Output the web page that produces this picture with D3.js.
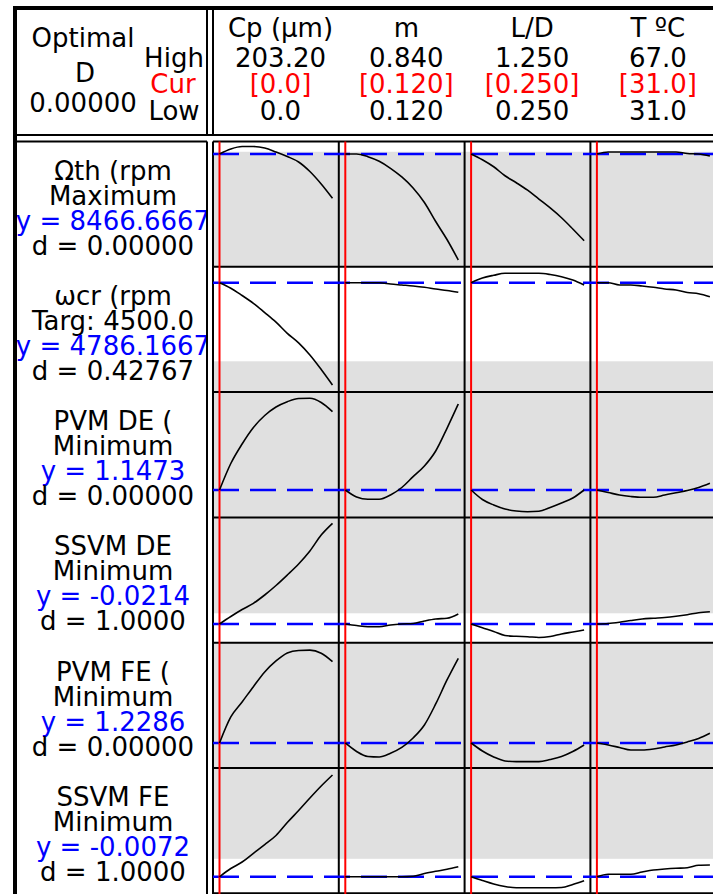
<!DOCTYPE html>
<html>
<head>
<meta charset="utf-8">
<script src="https://cdnjs.cloudflare.com/ajax/libs/d3/7.8.5/d3.min.js"></script>
<style>
  body { margin: 0; background: #fff; }
  svg text { font-family: "DejaVu Sans", Verdana, sans-serif; font-size: 26px; }
</style>
</head>
<body>
<div id="chart"></div>
<script>
// factors (columns)
var factorNames = ["Cp (µm)", "m", "L/D", "T ºC"];
var highLabels = ["203.20", "0.840", "1.250", "67.0"];
var curLabels = ["[0.0]", "[0.120]", "[0.250]", "[31.0]"];
var lowLabels = ["0.0", "0.120", "0.250", "31.0"];
var factorLow = [0, 0.12, 0.25, 31];
var factorHigh = [203.2, 0.84, 1.25, 67];
var factorCur = [0, 0.12, 0.25, 31];

// settings where each response was evaluated
var cpLevels = [0, 20.32, 40.64, 60.96, 81.28, 101.6, 121.92, 142.24, 162.56, 182.88, 203.2];
var mLevels = [0.12, 0.192, 0.264, 0.336, 0.408, 0.48, 0.552, 0.624, 0.696, 0.768, 0.84];
var ldLevels = [0.25, 0.35, 0.45, 0.55, 0.65, 0.75, 0.85, 0.95, 1.05, 1.15, 1.25];
var tLevels = [31, 34.6, 38.2, 41.8, 45.4, 49, 52.6, 56.2, 59.8, 63.4, 67];

// responses (rows)
var responseNames = ["Ωth (rpm", "ωcr (rpm", "PVM DE (", "SSVM DE", "PVM FE (", "SSVM FE"];
var goalLabels = ["Maximum", "Targ: 4500.0", "Minimum", "Minimum", "Minimum", "Minimum"];
var predicted = [8466.6667, 4786.1667, 1.1473, -0.0214, 1.2286, -0.0072];
var predictedLabels = ["y = 8466.6667", "y = 4786.1667", "y = 1.1473", "y = -0.0214", "y = 1.2286", "y = -0.0072"];
var desirLabels = ["d = 0.00000", "d = 0.42767", "d = 0.00000", "d = 1.0000", "d = 0.00000", "d = 1.0000"];
var yRanges = [[6775, 8654], [3692, 4945], [0.873, 2.126], [-0.0588, 0.1918], [0.9786, 2.2316], [-0.0138, 0.0363]];
var lowerBounds = [8500, 4000, null, null, null, null];
var upperBounds = [null, 5000, 0.8, 0, 0.9, 0];

// response traces, one array per factor column
var omegaTh = [
    [8467, 8542, 8579, 8579, 8557, 8497, 8429, 8347, 8204, 8017, 7802],
    [8467, 8467, 8426, 8357, 8252, 8122, 7957, 7739, 7454, 7184, 6877],
    [8467, 8380, 8275, 8140, 8036, 7924, 7790, 7657, 7510, 7342, 7166],
    [8467, 8497, 8497, 8497, 8497, 8497, 8497, 8497, 8474, 8467, 8437]
];
var omegaCr = [
    [4786, 4731, 4658, 4580, 4487, 4391, 4280, 4184, 4063, 3918, 3763],
    [4786, 4786, 4786, 4786, 4773, 4763, 4753, 4740, 4723, 4708, 4690],
    [4786, 4833, 4860, 4880, 4880, 4880, 4880, 4868, 4846, 4813, 4763],
    [4786, 4786, 4763, 4763, 4753, 4740, 4723, 4713, 4688, 4676, 4646]
];
var pvmDE = [
    [1.147, 1.412, 1.607, 1.772, 1.892, 1.977, 2.030, 2.062, 2.064, 2.022, 1.930],
    [1.147, 1.077, 1.054, 1.054, 1.097, 1.172, 1.280, 1.387, 1.537, 1.764, 2.007],
    [1.147, 1.052, 0.997, 0.957, 0.937, 0.930, 0.934, 0.972, 1.017, 1.067, 1.147],
    [1.147, 1.122, 1.097, 1.082, 1.074, 1.074, 1.097, 1.120, 1.142, 1.172, 1.214]
];
var ssvmDE = [
    [-0.0214, -0.0064, 0.0076, 0.0200, 0.0366, 0.0556, 0.0766, 0.0986, 0.1246, 0.1566, 0.1800],
    [-0.0214, -0.0244, -0.0268, -0.0268, -0.0234, -0.0214, -0.0204, -0.0154, -0.0114, -0.0100, -0.0014],
    [-0.0214, -0.0290, -0.0364, -0.0444, -0.0460, -0.0468, -0.0484, -0.0464, -0.0414, -0.0374, -0.0334],
    [-0.0214, -0.0204, -0.0178, -0.0144, -0.0114, -0.0098, -0.0084, -0.0060, -0.0028, 0.0012, 0.0032]
];
var pvmFE = [
    [1.229, 1.489, 1.639, 1.792, 1.939, 2.049, 2.129, 2.154, 2.157, 2.126, 2.042],
    [1.229, 1.144, 1.094, 1.089, 1.126, 1.184, 1.279, 1.409, 1.619, 1.859, 2.076],
    [1.229, 1.149, 1.089, 1.049, 1.042, 1.042, 1.042, 1.064, 1.094, 1.144, 1.209],
    [1.229, 1.209, 1.184, 1.159, 1.159, 1.169, 1.189, 1.209, 1.239, 1.274, 1.326]
];
var ssvmFE = [
    [-0.0072, -0.0039, -0.0013, 0.0022, 0.0057, 0.0093, 0.0145, 0.0193, 0.0243, 0.0291, 0.0335],
    [-0.0072, -0.0072, -0.0072, -0.0072, -0.0072, -0.0072, -0.0070, -0.0059, -0.0050, -0.0042, -0.0032],
    [-0.0072, -0.0087, -0.0101, -0.0111, -0.0116, -0.0116, -0.0116, -0.0116, -0.0115, -0.0103, -0.0088],
    [-0.0072, -0.0062, -0.0062, -0.0062, -0.0053, -0.0045, -0.0041, -0.0038, -0.0036, -0.0026, -0.0025]
];

var levels = [cpLevels, mLevels, ldLevels, tLevels];
var traces = [omegaTh, omegaCr, pvmDE, ssvmDE, pvmFE, ssvmFE];

var width = 713, height = 894;
var panelX = 213, colW = 125.8, panelY = 141.5, rowH = 125.3;
var labelCx = 113;

var svg = d3.select("#chart").append("svg")
    .attr("width", width)
    .attr("height", height)
    .style("display", "block");

svg.append("rect").attr("width", width).attr("height", height).attr("fill", "#fff");

svg.append("clipPath").attr("id", "labelClip")
    .append("rect").attr("x", 17).attr("y", 0).attr("width", 189).attr("height", height);

// one x scale per factor column
var xScales = factorNames.map(function (f, j) {
    var p = panelX + j * colW;
    return d3.scaleLinear().domain([factorLow[j], factorHigh[j]]).range([p + 6.5, p + 119.5]);
});

// one y scale per response row
var yScales = responseNames.map(function (r, i) {
    var top = panelY + i * rowH;
    return d3.scaleLinear().domain(yRanges[i]).range([top + rowH, top]).clamp(true);
});

// shaded area = region where desirability is zero
var shade = svg.append("g");
responseNames.forEach(function (r, i) {
    var top = panelY + i * rowH, bottom = top + rowH;
    var y = yScales[i];
    if (lowerBounds[i] !== null) {
        shade.append("rect").attr("x", panelX).attr("y", y(lowerBounds[i]))
            .attr("width", width - panelX).attr("height", bottom - y(lowerBounds[i]))
            .attr("fill", "#e0e0e0");
    }
    if (upperBounds[i] !== null) {
        shade.append("rect").attr("x", panelX).attr("y", top)
            .attr("width", width - panelX).attr("height", y(upperBounds[i]) - top)
            .attr("fill", "#e0e0e0");
    }
});

// panel grid
var grid = svg.append("g").attr("stroke", "#000").attr("stroke-width", 2);
d3.range(7).forEach(function (i) {
    grid.append("line").attr("x1", panelX).attr("x2", width)
        .attr("y1", panelY + i * rowH).attr("y2", panelY + i * rowH);
});
d3.range(4).forEach(function (j) {
    grid.append("line").attr("x1", panelX + j * colW).attr("x2", panelX + j * colW)
        .attr("y1", panelY).attr("y2", height);
});

// predicted response (blue dashed)
svg.append("g").selectAll("line")
    .data(predicted)
    .join("line")
    .attr("x1", panelX).attr("x2", width)
    .attr("y1", function (d, i) { return yScales[i](d); })
    .attr("y2", function (d, i) { return yScales[i](d); })
    .attr("stroke", "#0000ff")
    .attr("stroke-width", 2.5)
    .attr("stroke-dasharray", "26,11");

// current factor settings (red)
svg.append("g").selectAll("line")
    .data(factorCur)
    .join("line")
    .attr("x1", function (d, j) { return xScales[j](d); })
    .attr("x2", function (d, j) { return xScales[j](d); })
    .attr("y1", panelY).attr("y2", height)
    .attr("stroke", "#ff0000")
    .attr("stroke-width", 2);

// response traces
var curves = svg.append("g");
traces.forEach(function (rowData, i) {
    rowData.forEach(function (vals, j) {
        var line = d3.line()
            .x(function (d, k) { return xScales[j](levels[j][k]); })
            .y(function (d) { return yScales[i](d); })
            .curve(d3.curveMonotoneX);
        curves.append("path")
            .attr("d", line(vals))
            .attr("fill", "none")
            .attr("stroke", "#000")
            .attr("stroke-width", 1.6);
    });
});

// frames
var frame = svg.append("g").attr("fill", "none").attr("stroke", "#000");
frame.append("line").attr("x1", 13).attr("x2", width).attr("y1", 8).attr("y2", 8).attr("stroke-width", 4);
frame.append("line").attr("x1", 15).attr("x2", 15).attr("y1", 6).attr("y2", height).attr("stroke-width", 4);
frame.append("line").attr("x1", 13).attr("x2", width).attr("y1", 135).attr("y2", 135).attr("stroke-width", 2);
frame.append("line").attr("x1", 207).attr("x2", 207).attr("y1", 8).attr("y2", 135).attr("stroke-width", 2);
frame.append("line").attr("x1", 213).attr("x2", 213).attr("y1", 8).attr("y2", 135).attr("stroke-width", 2);
frame.append("line").attr("x1", 13).attr("x2", 207).attr("y1", panelY).attr("y2", panelY).attr("stroke-width", 2);
frame.append("line").attr("x1", 207).attr("x2", 207).attr("y1", panelY).attr("y2", height).attr("stroke-width", 2);

// header, left box
var hdr = svg.append("g").attr("text-anchor", "middle");
hdr.append("text").attr("x", 83).attr("y", 47).text("Optimal");
hdr.append("text").attr("x", 85).attr("y", 82).text("D");
hdr.append("text").attr("x", 83).attr("y", 112).text("0.00000");
hdr.append("text").attr("x", 174).attr("y", 67).text("High");
hdr.append("text").attr("x", 173).attr("y", 93).attr("fill", "#ff0000").text("Cur");
hdr.append("text").attr("x", 174).attr("y", 120).text("Low");

// header, factor columns
factorNames.forEach(function (f, j) {
    var cx = panelX + j * colW + 67.5;
    hdr.append("text").attr("x", cx).attr("y", 37).text(f);
    hdr.append("text").attr("x", cx).attr("y", 67).text(highLabels[j]);
    hdr.append("text").attr("x", cx).attr("y", 93).attr("fill", "#ff0000").text(curLabels[j]);
    hdr.append("text").attr("x", cx).attr("y", 120).text(lowLabels[j]);
});

// response labels
var labels = svg.append("g").attr("text-anchor", "middle").attr("clip-path", "url(#labelClip)");
responseNames.forEach(function (r, i) {
    var top = panelY + i * rowH;
    labels.append("text").attr("x", labelCx).attr("y", top + 38).text(r);
    labels.append("text").attr("x", labelCx).attr("y", top + 63).text(goalLabels[i]);
    labels.append("text").attr("x", labelCx).attr("y", top + 88).attr("fill", "#0000ff").text(predictedLabels[i]);
    labels.append("text").attr("x", labelCx).attr("y", top + 113).text(desirLabels[i]);
});
</script>
</body>
</html>
